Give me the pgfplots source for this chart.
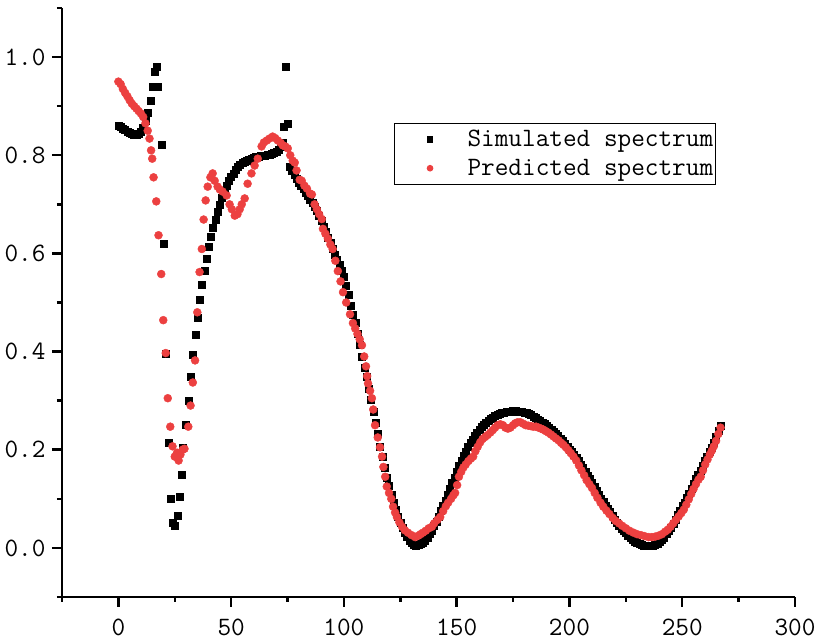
\documentclass[border=0pt]{standalone}
\usepackage{fontspec}
\usepackage{pgfplots}
\pgfplotsset{compat=1.18}
\definecolor{predred}{RGB}{236,64,64}
\newcommand{\bigtt}{\fontsize{26.5}{31}\selectfont\ttfamily}
\begin{document}
\begin{tikzpicture}
\begin{axis}[
  scale only axis, width=733pt, height=589pt,
  xmin=-25, xmax=300, ymin=-0.1, ymax=1.1,
  axis x line*=bottom, axis y line*=left,
  axis line style={line width=2.5pt,-},
  every tick/.style={black, line width=2.5pt},
  tick align=outside,
  major tick length=10pt, minor tick length=5pt,
  xtick={0,50,100,150,200,250,300}, minor xtick={-25,25,75,125,175,225,275},
  ytick={0,0.2,0.4,0.6,0.8,1.0}, minor ytick={-0.1,0.1,0.3,0.5,0.7,0.9,1.1},
  /pgf/number format/assume math mode=true,
  tick label style={font=\bigtt},
  xticklabel style={yshift=-8pt},
  yticklabel style={xshift=-3pt, /pgf/number format/.cd, fixed, fixed zerofill, precision=1},
  clip=false,
  legend style={at={(0.453,0.805)}, anchor=north west, draw=black, line width=1pt,
    font=\bigtt, inner xsep=2pt, inner ysep=7pt, row sep=11pt,
    nodes={inner sep=0pt}, cells={anchor=west}},
  legimg/.style={legend image code/.code={
    \path (0pt,0pt) (70pt,0pt);
    \draw[##1, mark size=2.8pt] plot coordinates {(33pt,0pt)};}},
]
% simulated spectrum
\addplot[only marks, mark=square*, mark size=3.5pt, color=black, legimg] coordinates {
(0,0.860) (1,0.858) (2,0.855) (3,0.852) (4,0.848) (5,0.845) (6,0.843) (7,0.842) (8,0.842) (9,0.844) (10,0.848) (11,0.856)
(12,0.870) (13,0.886) (14.2,0.912) (15,0.940) (16,0.970) (16.8,0.980) (17.3,0.940) (19,0.822) (20,0.620) (21,0.395)
(22.2,0.215) (23,0.100) (24.3,0.051) (24.9,0.045) (26.3,0.065) (27,0.104) (28,0.149) (28.5,0.204) (30,0.251) (31,0.300)
(32,0.348) (33,0.393) (34.2,0.434) (35,0.470) (36,0.505) (37,0.536) (38.2,0.564) (39,0.589) (40,0.613) (41,0.634)
(42,0.652) (43,0.669) (44,0.685) (45,0.700) (46,0.714) (47,0.727) (48,0.738) (49,0.748) (50,0.756) (51,0.763)
(52,0.770) (53,0.776) (54,0.780) (55,0.784) (56,0.787) (57,0.789) (58,0.791) (59,0.793) (60,0.795) (61,0.797)
(62,0.798) (63,0.799) (64,0.800) (65,0.800) (66,0.801) (67,0.802) (68,0.804) (69,0.806) (70,0.808) (71,0.812)
(72,0.818) (72.7,0.825) (73.2,0.859) (74.2,0.980) (75,0.865)
(76,0.776) (77,0.769) (78,0.761) (79,0.753) (80,0.745) (81,0.738) (82,0.731) (83,0.724) (84,0.717) (85,0.710)
(86,0.703) (87,0.695) (88,0.686) (89,0.676) (90,0.666) (91,0.655) (92,0.644) (93,0.633) (94,0.621) (95,0.609)
(96,0.598) (97,0.588) (98,0.577) (99,0.565) (100,0.553) (101,0.535) (102,0.515) (103,0.494) (104,0.476) (105,0.458)
(106,0.436) (107,0.413) (108,0.390) (109,0.368) (110,0.348) (111,0.325) (112,0.301) (113,0.278) (114,0.255) (115,0.232)
(116,0.207) (117,0.186) (118,0.164) (119,0.144) (120,0.126) (121,0.109) (122,0.093) (123,0.078) (124,0.064) (125,0.052)
(126,0.041) (127,0.031) (128,0.022) (129,0.015) (130,0.010) (131,0.007) (132,0.005) (133,0.006) (134,0.008) (135,0.011)
(136,0.015) (137,0.021) (138,0.028) (139,0.036) (140,0.045) (141,0.054) (142,0.064) (143,0.075) (144,0.086) (145,0.097)
(146,0.108) (147,0.120) (148,0.132) (149,0.144) (150,0.156) (151,0.167) (152,0.178) (153,0.188) (154,0.197) (155,0.206)
(156,0.214) (157,0.221) (158,0.228) (159,0.235) (160,0.241) (161,0.247) (162,0.252) (163,0.256) (164,0.260) (165,0.263)
(166,0.266) (167,0.269) (168,0.271) (169,0.273) (170,0.275) (171,0.276) (172,0.277) (173,0.278) (174,0.278) (175,0.279)
(176,0.279) (177,0.278) (178,0.278) (179,0.277) (180,0.276) (181,0.275) (182,0.273) (183,0.271) (184,0.268) (185,0.265)
(186,0.262) (187,0.259) (188,0.256) (189,0.253) (190,0.249) (191,0.245) (192,0.241) (193,0.237) (194,0.233) (195,0.228)
(196,0.223) (197,0.218) (198,0.212) (199,0.206) (200,0.200) (201,0.195) (202,0.190) (203,0.184) (204,0.177) (205,0.170)
(206,0.163) (207,0.155) (208,0.148) (209,0.140) (210,0.133) (211,0.125) (212,0.117) (213,0.109) (214,0.101) (215,0.094)
(216,0.087) (217,0.080) (218,0.073) (219,0.065) (220,0.058) (221,0.052) (222,0.046) (223,0.040) (224,0.035) (225,0.030)
(226,0.025) (227,0.020) (228,0.016) (229,0.013) (230,0.010) (231,0.008) (232,0.006) (233,0.005) (234,0.004) (235,0.004)
(236,0.004) (237,0.005) (238,0.007) (239,0.009) (240,0.012) (241,0.016) (242,0.021) (243,0.028) (244,0.035) (245,0.042)
(246,0.050) (247,0.058) (248,0.067) (249,0.076) (250,0.085) (251,0.093) (252,0.102) (253,0.111) (254,0.120) (255,0.130)
(256,0.140) (257,0.149) (258,0.158) (259,0.167) (260,0.177) (261,0.186) (262,0.196) (263,0.205) (264,0.215) (265,0.226)
(266,0.238) (267,0.250)
};
\addlegendentry{Simulated spectrum}
% predicted spectrum
\addplot[only marks, mark=*, mark size=4pt, color=predred, legimg] coordinates {
(0,0.950) (1,0.945) (2,0.935) (3,0.927) (4,0.920) (5,0.912) (6,0.905) (7,0.900) (8,0.895) (9,0.890) (10,0.885)
(11,0.878) (12,0.865) (13,0.850) (13.8,0.834) (14.5,0.810) (15,0.793) (15.6,0.755) (16.8,0.706) (17.8,0.637) (19,0.558)
(19.9,0.464) (21,0.397) (21.9,0.305) (23,0.247) (24,0.207) (25,0.186) (26,0.194) (26.7,0.178) (27.5,0.190) (28.5,0.200)
(29.3,0.202) (31,0.247) (32,0.290) (33,0.337) (34,0.382) (35,0.480) (36,0.562) (37,0.609) (37.8,0.669) (38.7,0.708)
(39.6,0.736) (40.8,0.755) (41.8,0.763) (42.7,0.748) (44,0.736) (45,0.730) (46.2,0.726) (48,0.718) (49.3,0.700) (50.3,0.690)
(51.6,0.677) (52.8,0.680) (53.8,0.690) (54.7,0.700) (56,0.712) (57.3,0.742) (59,0.763) (60.4,0.779) (61.8,0.793) (63.5,0.818)
(64.5,0.826) (65.8,0.830) (67,0.834) (68.4,0.838) (69.5,0.835) (70.7,0.830) (72,0.825) (72.9,0.820) (74,0.818) (75.1,0.814)
(76.2,0.800) (77.3,0.789) (78.2,0.785) (79,0.769) (80.4,0.750) (81.3,0.748) (82.5,0.738) (83.6,0.732) (85,0.722) (85.8,0.720)
(87,0.700) (88,0.690) (89,0.680) (90.2,0.670) (90.7,0.650) (91.8,0.640) (92.9,0.630) (94,0.618) (95,0.609) (96.2,0.585)
(97.3,0.564) (98.5,0.543) (99.6,0.521) (101,0.500) (102.7,0.476) (104,0.458) (105,0.447) (106,0.436) (107,0.425) (108,0.413)
(109,0.390) (109.8,0.370) (110.3,0.350) (110.7,0.335) (111.6,0.320) (112.4,0.305) (113,0.282) (113.8,0.250) (115,0.225) (116,0.205)
(116.9,0.186) (117.5,0.165) (118.3,0.145) (119,0.125) (120,0.112) (121,0.100) (121.8,0.084) (122.7,0.072) (123.5,0.063) (124.6,0.052)
(125.8,0.043) (127,0.036) (128.4,0.031) (130,0.026) (131.6,0.022) (133,0.025) (134,0.028) (135,0.031) (136.3,0.035) (137.6,0.040)
(139,0.043) (140,0.050) (141.4,0.057) (142.7,0.063) (144,0.075) (145.2,0.085) (146.2,0.092) (147.5,0.100) (148.5,0.107) (149.3,0.112)
(150.2,0.128) (151,0.145) (152,0.155) (153,0.164) (154,0.170) (155.2,0.177) (156.3,0.182) (157.3,0.186) (158.3,0.197) (159.3,0.206)
(160.4,0.215) (161.5,0.222) (162.6,0.226) (163.7,0.230) (164.9,0.235) (166,0.240) (167,0.245) (168.2,0.250) (169.3,0.252) (170.5,0.250)
(171.6,0.245) (172.7,0.243) (173.8,0.245) (175,0.250) (176,0.254) (177,0.256) (178.2,0.256) (179.5,0.253) (180.6,0.250) (181.8,0.249)
(183,0.248) (184,0.247) (185.2,0.247) (186.3,0.245) (187.4,0.243) (188.4,0.241) (189.5,0.238) (190.6,0.235) (191.8,0.231) (192.9,0.227)
(194,0.223) (195.2,0.219) (196.3,0.214) (197.3,0.210) (198.4,0.205) (199.5,0.199) (200.6,0.193) (201.8,0.186) (203,0.178) (204.2,0.168)
(205.3,0.158) (206.5,0.148) (207.6,0.138) (208.8,0.130) (210,0.122) (211.2,0.112) (212.4,0.102) (213.8,0.092) (215,0.084) (216.4,0.076)
(217.7,0.069) (219.2,0.061) (220.5,0.055) (222,0.050) (223.4,0.045) (225,0.040) (226.6,0.035) (228.4,0.031) (230,0.028) (231.7,0.026)
(233.3,0.024) (235,0.022) (236.5,0.022) (238,0.023) (239.5,0.025) (241,0.028) (242.4,0.033) (243.6,0.037) (244.8,0.043) (246,0.050)
(247.2,0.057) (248.4,0.064) (249.6,0.071) (250.7,0.078) (251.8,0.088) (252.9,0.099) (254,0.110) (255,0.120) (256.1,0.130) (257.2,0.139)
(258.2,0.145) (259.2,0.158) (260.2,0.170) (261.2,0.180) (262.2,0.190) (263.1,0.198) (264,0.207) (265,0.218) (266,0.232) (267,0.245)
};
\addlegendentry{Predicted spectrum}
\end{axis}
\pgfresetboundingbox
\path ([shift={(-62pt,-47pt)}]current axis.south west) rectangle ([shift={(22pt,8pt)}]current axis.north east);
\end{tikzpicture}
\end{document}
